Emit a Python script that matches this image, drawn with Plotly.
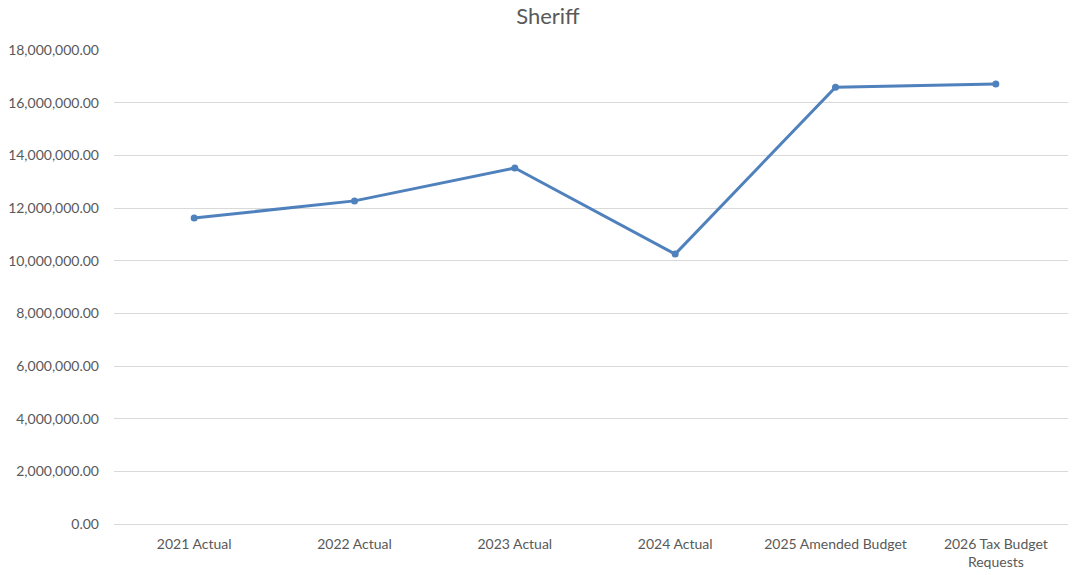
import plotly.graph_objects as go

# Sheriff budget by year
categories = ["2021 Actual", "2022 Actual", "2023 Actual", "2024 Actual",
              "2025 Amended Budget", "2026 Tax Budget<br>Requests"]
values = [11620000, 12270000, 13520000, 10250000, 16590000, 16710000]
y_ticks = list(range(0, 18000001, 2000000))

fig = go.Figure()
fig.add_trace(go.Scatter(
    x=categories,
    y=values,
    mode="lines+markers",
    line=dict(color="#4f81bd", width=3),
    marker=dict(color="#4f81bd", size=7),
    showlegend=False,
))

# page body has an 8px margin, so the figure is sized to fit inside the window
fig.update_layout(
    width=1068,
    height=567,
    margin=dict(l=106, r=0, t=42, b=51),
    paper_bgcolor="white",
    plot_bgcolor="white",
    font=dict(family="Lato, Open Sans, sans-serif", size=14, color="#595959"),
    title=dict(text="Sheriff", x=0.5056, xanchor="center", y=0.999, yanchor="top",
               pad=dict(t=0), font=dict(size=22, color="#595959")),
)
fig.update_xaxes(
    type="category",
    range=[-0.5, 5.5],
    showgrid=False,
    showline=False,
    ticks="",
    ticklabelstandoff=10,
    automargin=False,
)
fig.update_yaxes(
    range=[0, 18000000],
    tickvals=y_ticks,
    tickformat=",.2f",
    showgrid=True,
    gridcolor="#d9d9d9",
    gridwidth=1,
    zeroline=True,
    zerolinecolor="#d9d9d9",
    zerolinewidth=1,
    showline=False,
    ticks="",
    ticklabelstandoff=14,
    automargin=False,
)

fig.write_html("out.html")
